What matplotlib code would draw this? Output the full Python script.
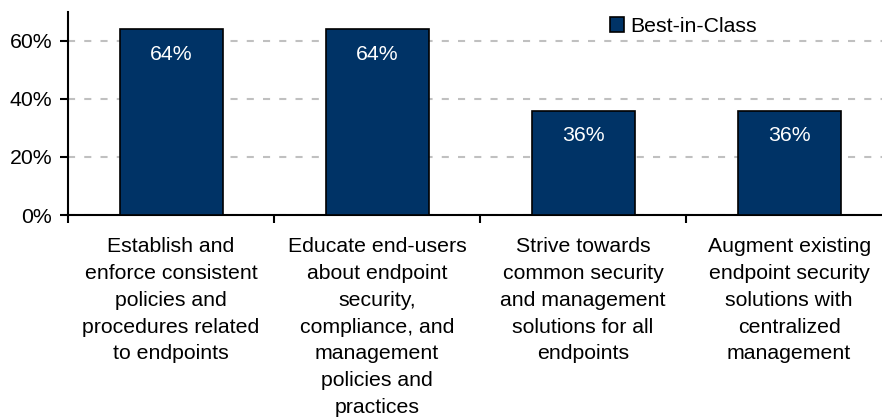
import matplotlib.pyplot as plt
import numpy as np

plt.rcParams['font.family'] = ['Liberation Sans', 'DejaVu Sans']

categories = [
    "Establish and\nenforce consistent\npolicies and\nprocedures related\nto endpoints",
    "Educate end-users\nabout endpoint\nsecurity,\ncompliance, and\nmanagement\npolicies and\npractices",
    "Strive towards\ncommon security\nand management\nsolutions for all\nendpoints",
    "Augment existing\nendpoint security\nsolutions with\ncentralized\nmanagement",
]
best_in_class = [64, 64, 36, 36]
yticks = [0, 20, 40, 60]

navy = '#003366'
fs = 15.3

fig = plt.figure(figsize=(8.82, 4.19), dpi=100)
ax = fig.add_axes([68 / 882, 1 - 215 / 419, 1 - 68 / 882, (215 - 12) / 419])

x = np.arange(len(categories))
bars = ax.bar(x, best_in_class, width=0.5, color=navy, edgecolor='black',
              linewidth=1.2, label='Best-in-Class', zorder=3)

# value labels sit inside the top of each bar
for b, v in zip(bars, best_in_class):
    ax.text(b.get_x() + b.get_width() / 2, v - 8.6, f"{v}%", ha='center', va='center',
            color='white', fontsize=fs, zorder=4)

ax.set_xlim(-0.5, 3.451)
ax.set_ylim(0, 70)
ax.set_yticks(yticks)
ax.set_yticklabels([f"{t}%" for t in yticks], fontsize=fs)
ax.yaxis.grid(True, linestyle=(0, (3.4, 4.4)), color='#c0c0c0', linewidth=1.5, zorder=0)

ax.set_xticks(x)
ax.set_xticklabels(categories, fontsize=fs, linespacing=1.52)
ax.set_xticks(np.arange(-0.5, 3.5, 1), minor=True)
ax.tick_params(axis='x', which='major', length=0, pad=16)
ax.tick_params(axis='x', which='minor', length=5.5, width=1.5, direction='out')
ax.tick_params(axis='y', length=5.5, width=1.5, direction='out', pad=6)

for side in ['top', 'right']:
    ax.spines[side].set_visible(False)
for side in ['left', 'bottom']:
    ax.spines[side].set_linewidth(1.5)

fig.legend(handles=[bars], labels=['Best-in-Class'], loc='upper left',
           bbox_to_anchor=(610 / 882, 1 - 17 / 419), frameon=False,
           fontsize=fs, handlelength=0.65, handleheight=0.65, handletextpad=0.28,
           borderpad=0, borderaxespad=0)

fig.savefig('out.png', dpi=100)
